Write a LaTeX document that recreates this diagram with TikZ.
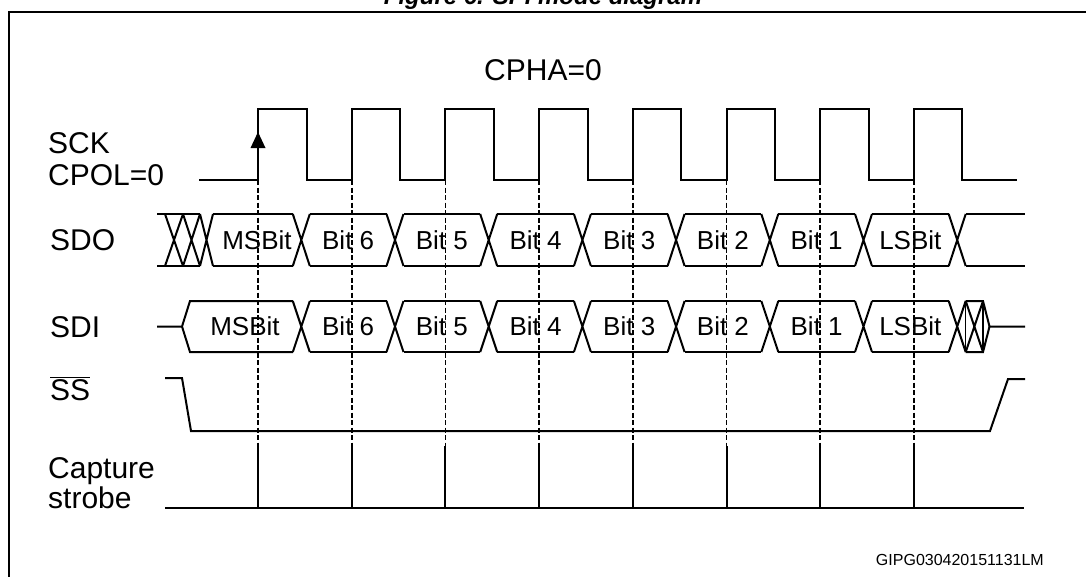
\documentclass[tikz,border=0pt]{standalone}
\usepackage{fontspec}
\setmainfont{Liberation Sans}
\begin{document}
\begin{tikzpicture}[x=1pt,y=-1pt,
  wave/.style={line width=2pt,line join=miter},
  guide/.style={line width=1.6pt,dash pattern=on 5pt off 2.5pt},
  frameline/.style={line width=2.6pt},
  siglabel/.style={anchor=base west,inner sep=0pt,font=\fontsize{30}{32}\selectfont},
  bitlabel/.style={inner sep=0pt,font=\fontsize{26}{28}\selectfont},
  idlabel/.style={anchor=base east,inner sep=0pt,font=\fontsize{16}{18}\selectfont},
  titlelabel/.style={anchor=base,inner sep=0pt,font=\fontsize{24}{26}\selectfont\bfseries\itshape}]
\useasboundingbox (0,0) rectangle (1086,576);
\begin{scope}
\clip (0,0) rectangle (1086,576);
\node[titlelabel] (title) at (543,4) {Figure 6. SPI mode diagram};
\draw[frameline] (9,580) -- (9,12) -- (1090,12);
\end{scope}

% texts
\node[siglabel,anchor=base] (cpha) at (543,80) {CPHA=0};
\node[siglabel] (sck) at (48,153) {SCK};
\node[siglabel] (cpol) at (48,185) {CPOL=0};
\node[siglabel] (sdo) at (50,250) {SDO};
\node[siglabel] (sdi) at (50,337) {SDI};
\node[siglabel] (ss) at (50,400) {$\overline{\mbox{SS}}$};
\node[siglabel] (cap1) at (48,478) {Capture};
\node[siglabel] (cap2) at (48,508) {strobe};
\node[idlabel] (id) at (1044,565) {GIPG030420151131LM};

% edge positions
\def\per{93.7}
\def\rz{258}
\def\hw{8.5}

% SCK
\draw[wave] (199,180)
  \foreach \k in {0,...,7}{ -- ({\rz+\k*\per},180) -- ({\rz+\k*\per},109) -- ({\rz+\k*\per+48.5},109) -- ({\rz+\k*\per+48.5},180) }
  -- (1017,180);
\fill (258,132) -- (265.5,148) -- (250.5,148) -- cycle;

% dashed guides and capture strobes
\foreach \k in {0,...,7}{
  \coordinate (g\k) at ({\rz+\k*\per},180);
  \coordinate (s\k) at ({\rz+\k*\per},446);
  \coordinate (e\k) at ({\rz+\k*\per},508);
  \draw[guide] (g\k) -- (s\k);
  \draw[wave] (s\k) -- (e\k);
}
\coordinate (cs0) at (165,508);
\coordinate (cs1) at (1024,508);
\draw[wave] (cs0) -- (cs1);

% SDO
\def\tt{214}\def\bb{266}
\draw[wave] (157,\tt) -- (200,\tt);
\draw[wave] (157,\bb) -- (200,\bb);
\draw[wave] (165,\tt) -- (183,\bb) (165,\bb) -- (183,\tt)
            (183,\tt) -- (200,\bb) (183,\bb) -- (200,\tt)
            (200,\tt) -- (213,\bb) (200,\bb) -- (213,\tt);
\draw[wave] (213,\tt) -- ({\rz+43.3-\hw},\tt);
\draw[wave] (213,\bb) -- ({\rz+43.3-\hw},\bb);
\foreach \k in {0,...,7}{
  \pgfmathsetmacro{\c}{\rz+\k*\per+43.3}
  \draw[wave] ({\c-\hw},\tt) -- ({\c+\hw},\bb) ({\c-\hw},\bb) -- ({\c+\hw},\tt);
}
\foreach \k in {0,...,6}{
  \pgfmathsetmacro{\c}{\rz+\k*\per+43.3}
  \draw[wave] ({\c+\hw},\tt) -- ({\c+\per-\hw},\tt) ({\c+\hw},\bb) -- ({\c+\per-\hw},\bb);
}
\draw[wave] ({\rz+7*\per+43.3+\hw},\tt) -- (1025,\tt) ({\rz+7*\per+43.3+\hw},\bb) -- (1025,\bb);

% SDI
\def\ti{301}\def\bi{352}\def\mi{326.5}
\draw[wave] (157,\mi) -- (182,\mi) -- (190,\ti) -- ({\rz+43.3-\hw},\ti);
\draw[wave] (182,\mi) -- (190,\bi) -- ({\rz+43.3-\hw},\bi);
\foreach \k in {0,...,7}{
  \pgfmathsetmacro{\c}{\rz+\k*\per+43.3}
  \draw[wave] ({\c-\hw},\ti) -- ({\c+\hw},\bi) ({\c-\hw},\bi) -- ({\c+\hw},\ti);
}
\foreach \k in {0,...,6}{
  \pgfmathsetmacro{\c}{\rz+\k*\per+43.3}
  \draw[wave] ({\c+\hw},\ti) -- ({\c+\per-\hw},\ti) ({\c+\hw},\bi) -- ({\c+\per-\hw},\bi);
}
\pgfmathsetmacro{\ce}{\rz+7*\per+43.3+\hw}
\draw[wave] (\ce,\ti) -- (983,\ti) -- (989.5,\mi) -- (1025,\mi);
\draw[wave] (\ce,\bi) -- (983,\bi) -- (989.5,\mi);
\draw[wave] (\ce,\ti) -- (983,\bi) (\ce,\bi) -- (983,\ti);
\draw[line width=1.2pt] (\ce,\ti) -- (\ce,\bi) (983,\ti) -- (983,\bi);

% bit labels
\foreach \k/\txt in {1/Bit 6,2/Bit 5,3/Bit 4,4/Bit 3,5/Bit 2,6/Bit 1,7/LSBit}{
  \pgfmathsetmacro{\cx}{\rz+\k*\per-\per/2+43.3}
  \node[bitlabel] (o\k) at (\cx,240) {\txt};
  \node[bitlabel] (i\k) at (\cx,\mi) {\txt};
}
\node[bitlabel] (o0) at (257,240) {MSBit};
\node[bitlabel] (i0) at (245,\mi) {MSBit};

% SS
\draw[wave] (165,378) -- (182,378) -- (191,431) -- (990,431) -- (1008,379) -- (1025,379);
\end{tikzpicture}
\end{document}
